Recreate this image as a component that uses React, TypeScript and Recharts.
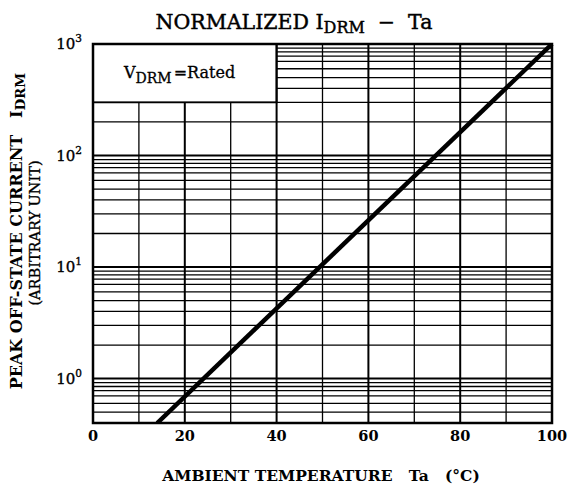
import { LineChart, Line, XAxis, YAxis, ReferenceLine, ReferenceArea } from "recharts";

// ambient temperature (°C) vs normalized off-state current
const tempC = [14, 100];
const currentIdrm = [0.4, 1000];

const xTicks = [0, 20, 40, 60, 80, 100];
const yTicks = [1, 10, 100, 1000];

const xGridLines = [10, 20, 30, 40, 50, 60, 70, 80, 90];
const decadeLines = [1, 10, 100];
const decadeBases = [0.1, 1, 10, 100];
// minor line positions inside each decade as printed on the sheet
const minorSteps = [2, 3, 4, 5, 6, 7, 7.8, 8.5, 9.2];

// the "V_DRM = Rated" panel in the top-left corner
const boxTemp = [0, 40];
const boxCurrent = [300, 1000];

const FONT = "'DejaVu Serif', 'Liberation Serif', serif";
const W = 570;
const H = 491;

const data = tempC.map((t, i) => ({ t, idrm: currentIdrm[i] }));

const minorLines = decadeBases
  .flatMap((d) => minorSteps.map((m) => +(d * m).toFixed(3)))
  .filter((v) => v > currentIdrm[0] && v < 1000);

function PowerTick(props: any) {
  const { x, y, payload } = props;
  const exp = Math.round(Math.log10(payload.value));
  return (
    <text
      x={x - 3}
      y={y + 5}
      textAnchor="end"
      fontFamily={FONT}
      fontSize={15}
      fill="#000"
      stroke="#000"
      strokeWidth={0.35}
    >
      <tspan>10</tspan>
      <tspan dy={-7} fontSize={10.5}>
        {exp}
      </tspan>
    </text>
  );
}

export default function App() {
  return (
    <div style={{ position: "absolute", left: 0, top: 0, width: W, height: H, background: "#fff" }}>
      <LineChart
        width={W}
        height={H}
        data={data}
        margin={{ top: 44, right: 18, bottom: 37, left: 0 }}
      >
        <XAxis
          dataKey="t"
          type="number"
          domain={[0, 100]}
          ticks={xTicks}
          axisLine={false}
          tickLine={false}
          height={31}
          tick={{ fontFamily: FONT, fontSize: 14.5, fill: "#000", fontWeight: 600 }}
        />
        <YAxis
          type="number"
          scale="log"
          domain={[0.4, 1000]}
          allowDataOverflow
          ticks={yTicks}
          axisLine={false}
          tickLine={false}
          width={93}
          tick={<PowerTick />}
        />

        {/* minor horizontal grid */}
        {minorLines.map((v) =>
          v > boxCurrent[0] ? (
            <ReferenceLine
              key={"h" + v}
              segment={[
                { x: boxTemp[1], y: v },
                { x: 100, y: v },
              ]}
              stroke="#000"
              strokeWidth={1.3}
              ifOverflow="visible"
            />
          ) : (
            <ReferenceLine key={"h" + v} y={v} stroke="#000" strokeWidth={1.3} ifOverflow="visible" />
          )
        )}
        {decadeLines.map((v) => (
          <ReferenceLine key={"d" + v} y={v} stroke="#000" strokeWidth={2} ifOverflow="visible" />
        ))}

        {/* vertical grid */}
        {xGridLines.map((t) =>
          t < boxTemp[1] ? (
            <ReferenceLine
              key={"v" + t}
              segment={[
                { x: t, y: currentIdrm[0] },
                { x: t, y: boxCurrent[0] },
              ]}
              stroke="#000"
              strokeWidth={t % 20 === 0 ? 2 : 1.3}
              ifOverflow="visible"
            />
          ) : (
            <ReferenceLine
              key={"v" + t}
              x={t}
              stroke="#000"
              strokeWidth={t % 20 === 0 ? 2 : 1.3}
              ifOverflow="visible"
            />
          )
        )}

        {/* rated box */}
        <ReferenceArea
          x1={boxTemp[0]}
          x2={boxTemp[1]}
          y1={boxCurrent[0]}
          y2={boxCurrent[1]}
          fill="#fff"
          fillOpacity={1}
          stroke="#000"
          strokeWidth={1.8}
          ifOverflow="visible"
        />

        {/* frame */}
        <ReferenceArea
          x1={0}
          x2={100}
          y1={0.4}
          y2={1000}
          fill="none"
          stroke="#000"
          strokeWidth={2.5}
          ifOverflow="visible"
        />

        <Line
          dataKey="idrm"
          type="linear"
          stroke="#000"
          strokeWidth={4.5}
          dot={false}
          isAnimationActive={false}
        />
      </LineChart>

      <svg
        width={W}
        height={H}
        style={{ position: "absolute", left: 0, top: 0, pointerEvents: "none" }}
        fontFamily={FONT}
        fill="#000"
      >
        {/* title */}
        <text
          x={294}
          y={29}
          textAnchor="middle"
          fontSize={20.5}
          stroke="#000"
          strokeWidth={0.45}
          style={{ whiteSpace: "pre" }}
        >
          NORMALIZED I
          <tspan fontSize={16} dy={4}>DRM</tspan>
          <tspan dy={-4}>{"  −  Ta"}</tspan>
        </text>

        {/* box label */}
        <text x={124} y={78} fontSize={16} stroke="#000" strokeWidth={0.3}>
          V
          <tspan fontSize={14} dy={5}>DRM</tspan>
          <tspan dy={-5} dx={2}>=Rated</tspan>
        </text>

        {/* y label */}
        <text
          x={16}
          y={231}
          textAnchor="middle"
          dominantBaseline="central"
          fontSize={16}
          fontWeight={600}
          transform="rotate(-90, 16, 231)"
          style={{ whiteSpace: "pre" }}
        >
          {"PEAK OFF-STATE CURRENT   I"}
          <tspan fontSize={13.5} dy={4}>DRM</tspan>
        </text>
        <text
          x={35}
          y={233}
          textAnchor="middle"
          dominantBaseline="central"
          fontSize={14.5}
          transform="rotate(-90, 35, 233)"
          stroke="#000"
          strokeWidth={0.35}
        >
          (ARBITRARY UNIT)
        </text>

        {/* x label */}
        <text x={321} y={481} textAnchor="middle" fontSize={15.5} fontWeight={600} style={{ whiteSpace: "pre" }}>
          {"AMBIENT TEMPERATURE   Ta   (°C)"}
        </text>
      </svg>
    </div>
  );
}
